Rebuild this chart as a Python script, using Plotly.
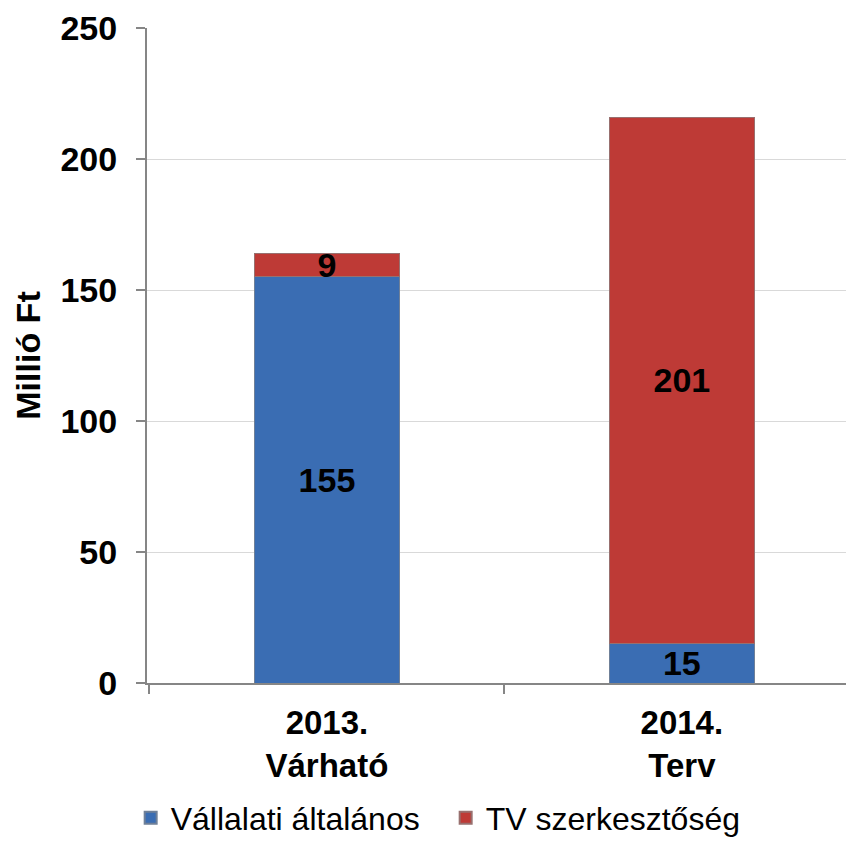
import plotly.graph_objects as go

# ~~~DATA~~~
categories = ["2013.<br>Várható", "2014.<br>Terv"]
vallalati = [155, 15]
tv_szerk = [9, 201]
series_names = ["Vállalati általános", "TV szerkesztőség"]
y_ticks = [0, 50, 100, 150, 200, 250]

FONT = "Liberation Sans, Arial, sans-serif"

fig = go.Figure()

# Stacked bars
fig.add_trace(go.Bar(x=categories, y=vallalati, name=series_names[0],
                     text=vallalati, textposition="inside", insidetextanchor="middle", textangle=0,
                     marker=dict(color="#3A6DB3", line=dict(color="#6f8098", width=1)),
                     textfont=dict(family=FONT, size=34, color="black", weight="bold"),
                     width=0.41))
fig.add_trace(go.Bar(x=categories, y=tv_szerk, name=series_names[1],
                     text=tv_szerk, textposition="inside", insidetextanchor="middle", textangle=0,
                     marker=dict(color="#BE3A36", line=dict(color="#98706f", width=1)),
                     textfont=dict(family=FONT, size=34, color="black", weight="bold"),
                     width=0.41))

# page body has an 8px margin, so the figure is 8px smaller than the window
fig.update_layout(
    barmode="stack",
    width=846, height=839,
    margin=dict(l=139, r=0, t=20, b=164),
    plot_bgcolor="white", paper_bgcolor="white",
    font=dict(family=FONT, color="black"),
    uniformtext=dict(minsize=34, mode="show"),
    legend=dict(orientation="h", traceorder="normal", xref="container", x=0.145, xanchor="left",
                yref="container", y=0.0346, yanchor="middle", entrywidth=270,
                font=dict(family=FONT, size=32), itemsizing="constant"),
)

fig.update_yaxes(range=[0, 250], tickvals=y_ticks, showgrid=True, gridcolor="#D9D9D9",
                 showline=True, linecolor="#868686", linewidth=2, automargin=False,
                 ticks="outside", ticklen=9, tickcolor="#868686", tickwidth=2,
                 ticklabelstandoff=12,
                 tickfont=dict(family=FONT, size=34, weight="bold"),
                 title=dict(text="Millió Ft", standoff=10,
                            font=dict(family=FONT, size=34, weight="bold")),
                 zeroline=False)
fig.update_xaxes(range=[-0.507, 1.485], showline=True, linecolor="#868686", linewidth=2,
                 ticks="outside", tickson="boundaries", ticklen=9, tickcolor="#868686",
                 tickwidth=2, ticklabelstandoff=9, automargin=False,
                 tickfont=dict(family=FONT, size=33, weight="bold"))

fig.write_html("out.html")
